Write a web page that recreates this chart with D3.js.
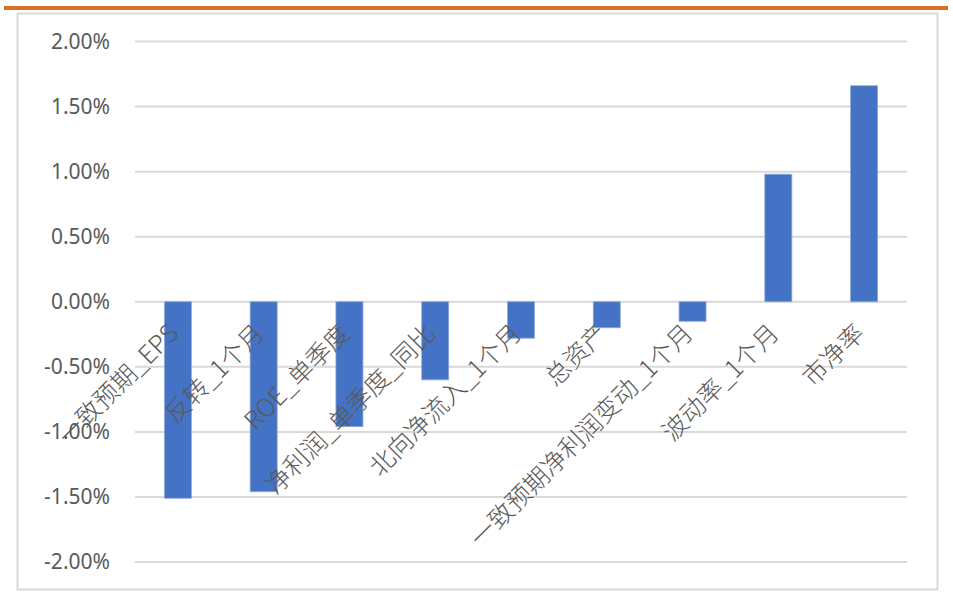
<!DOCTYPE html>
<html>
<head>
<meta charset="utf-8">
<script src="https://cdn.jsdelivr.net/npm/d3@7"></script>
<style>
  body { margin: 0; background: #ffffff; }
  svg { display: block; }
</style>
</head>
<body>
<div id="chart"></div>
<script>
// Chart data
const categories = [
    "一致预期_EPS", "反转_1个月", "ROE_单季度", "净利润_单季度_同比",
    "北向净流入_1个月", "总资产", "一致预期净利润变动_1个月", "波动率_1个月", "市净率"
];
const values = [-0.0151, -0.0146, -0.0096, -0.0060, -0.0028, -0.0020, -0.0015, 0.0098, 0.0166];
const yTicks = [-0.02, -0.015, -0.01, -0.005, 0, 0.005, 0.01, 0.015, 0.02];

const width = 953;
const height = 592;

// plain hyphen for negatives, like the original
const locale = d3.formatLocale({ decimal: ".", thousands: ",", grouping: [3], currency: ["", ""], minus: "-" });
const pct = locale.format(".2%");

const svg = d3.select("#chart")
    .append("svg")
    .attr("width", width)
    .attr("height", height);

// Orange rule across the top
svg.append("rect")
    .attr("x", 4).attr("y", 6)
    .attr("width", 944).attr("height", 4)
    .attr("fill", "#d8702a");

// Chart border
svg.append("rect")
    .attr("x", 17.5).attr("y", 13.5)
    .attr("width", 920).attr("height", 576)
    .attr("fill", "none")
    .attr("stroke", "#d9d9d9")
    .attr("stroke-width", 2);

// Scales
const x = d3.scaleBand()
    .domain(categories)
    .range([135, 907])
    .paddingInner(0.685)
    .paddingOuter(0.3425);

const y = d3.scaleLinear()
    .domain([-0.02, 0.02])
    .range([562, 41.5]);

// Gridlines
svg.append("g")
    .selectAll("line")
    .data(yTicks)
    .enter()
    .append("line")
    .attr("x1", 135)
    .attr("x2", 907)
    .attr("y1", d => y(d))
    .attr("y2", d => y(d))
    .attr("stroke", "#d9d9d9")
    .attr("stroke-width", 2);

// Y axis labels
const yAxis = svg.append("g")
    .attr("transform", "translate(122,0)")
    .call(d3.axisLeft(y).tickValues(yTicks).tickFormat(pct).tickSize(0).tickPadding(12));
yAxis.select(".domain").remove();
yAxis.selectAll("text")
    .attr("fill", "#595959")
    .style("font-family", "'Noto Sans', 'Liberation Sans', sans-serif")
    .style("font-size", "21px");

// Bars
svg.append("g")
    .selectAll("rect")
    .data(values)
    .enter()
    .append("rect")
    .attr("x", (d, i) => x(categories[i]))
    .attr("y", d => y(Math.max(0, d)))
    .attr("width", x.bandwidth())
    .attr("height", d => Math.abs(y(d) - y(0)))
    .attr("fill", "#4472c4")
    .attr("stroke", "#8eaadb")
    .attr("stroke-width", 0.8);

// Category labels, rotated
svg.append("g")
    .selectAll("text")
    .data(categories)
    .enter()
    .append("text")
    .attr("transform", d => `translate(${x(d) + x.bandwidth() / 2 + 2},${y(0) + 33}) rotate(-45)`)
    .attr("text-anchor", "end")
    .attr("fill", "#595959")
    .style("font-family", "'Noto Sans CJK SC', sans-serif")
    .style("font-weight", 300)
    .style("font-size", "25px")
    .text(d => d);
</script>
</body>
</html>
